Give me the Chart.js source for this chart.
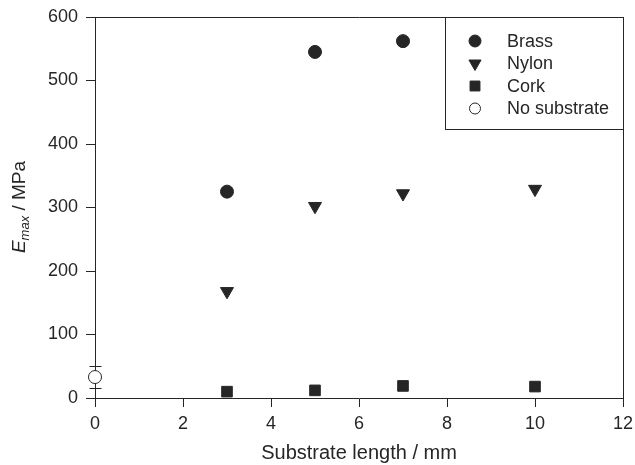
<!DOCTYPE html>
<html>
<head>
<meta charset="utf-8">
<script src="https://cdn.jsdelivr.net/npm/chart.js@4"></script>
<style>
  html, body { margin: 0; padding: 0; background: #fff; }
  #wrap { width: 635px; height: 465px; }
</style>
</head>
<body>
<div id="wrap"><canvas id="myChart"></canvas></div>
<script>
// data
const seriesNames = ['Brass', 'Nylon', 'Cork', 'No substrate'];
const brassX = [3, 5, 7];
const brassY = [325, 545, 562];
const nylonX = [3, 5, 7, 10];
const nylonY = [168, 302, 322, 329];
const corkX = [3, 5, 7, 10];
const corkY = [10, 12, 19, 18];
const bareX = [0];
const bareY = [33];
const bareErrLow = [16];
const bareErrHigh = [51];
const xTickValues = [0, 2, 4, 6, 8, 10, 12];
const yTickValues = [0, 100, 200, 300, 400, 500, 600];

const ink = '#262626';
const fontFamily = "'Liberation Sans', Arial, Helvetica, sans-serif";
Chart.defaults.font.family = fontFamily;

function pts(xs, ys) {
  return xs.map((x, i) => ({ x: x, y: ys[i] }));
}

const ctx = document.getElementById('myChart');

// frame, error bar, legend box and axis titles
const extras = {
  id: 'extras',
  beforeDatasetsDraw(chart) {
    const c = chart.ctx;
    const xs = chart.scales.x, ys = chart.scales.y;
    c.save();
    c.strokeStyle = ink;
    c.lineWidth = 1;
    bareX.forEach((x, i) => {
      const px = Math.round(xs.getPixelForValue(x)) + 0.5;
      const lo = ys.getPixelForValue(bareErrLow[i]);
      const hi = ys.getPixelForValue(bareErrHigh[i]);
      c.beginPath();
      c.moveTo(px, lo); c.lineTo(px, hi);
      c.moveTo(px - 6, Math.round(lo) + 0.5); c.lineTo(px + 6, Math.round(lo) + 0.5);
      c.moveTo(px - 6, Math.round(hi) + 0.5); c.lineTo(px + 6, Math.round(hi) + 0.5);
      c.stroke();
    });
    c.restore();
  },
  afterDraw(chart) {
    const c = chart.ctx;
    const a = chart.chartArea;
    c.save();
    c.strokeStyle = ink;
    c.lineWidth = 1;
    // top and right frame
    c.beginPath();
    c.moveTo(a.left, a.top + 0.5); c.lineTo(a.right + 0.5, a.top + 0.5);
    c.lineTo(a.right + 0.5, a.bottom);
    c.stroke();

    // legend box
    const bx = a.right - 178, by = a.top, bw = 178, bh = 112;
    c.strokeRect(Math.round(bx) + 0.5, by + 0.5, bw, bh);
    c.font = '18px ' + fontFamily;
    c.fillStyle = ink;
    c.textBaseline = 'middle';
    c.textAlign = 'left';
    chart.data.datasets.forEach((ds, i) => {
      const cy = by + 24 + i * 22.5;
      const mx = bx + 30;
      c.save();
      c.fillStyle = ds.backgroundColor;
      c.strokeStyle = ds.borderColor;
      c.lineWidth = 1;
      Chart.helpers.drawPoint(c, {
        pointStyle: ds.pointStyle,
        radius: ds.legendRadius,
        rotation: ds.pointRotation || 0,
        borderWidth: 1
      }, mx, cy);
      c.restore();
      c.fillText(ds.label, bx + 62, cy + 1);
    });

    // x title
    c.font = '20px ' + fontFamily;
    c.textAlign = 'center';
    c.textBaseline = 'middle';
    c.fillText('Substrate length / mm', (a.left + a.right) / 2, 453);

    // y title with italic subscript
    const big = '19px ' + fontFamily;
    const bigIt = 'italic 19px ' + fontFamily;
    const smallIt = 'italic 13px ' + fontFamily;
    c.font = bigIt; const wE = c.measureText('E').width;
    c.font = smallIt; const wSub = c.measureText('max').width;
    c.font = big; const wRest = c.measureText(' / MPa').width;
    const total = wE + wSub + wRest;
    c.translate(19, 207);
    c.rotate(-Math.PI / 2);
    c.textAlign = 'left';
    c.textBaseline = 'alphabetic';
    let tx = -total / 2;
    c.font = bigIt; c.fillText('E', tx, 6); tx += wE;
    c.font = smallIt; c.fillText('max', tx, 10); tx += wSub;
    c.font = big; c.fillText(' / MPa', tx, 6);
    c.restore();
  }
};

new Chart(ctx, {
  type: 'scatter',
  data: {
    datasets: [{
      label: seriesNames[0],
      data: pts(brassX, brassY),
      pointStyle: 'circle',
      pointRadius: 6.5,
      legendRadius: 6,
      backgroundColor: ink,
      borderColor: ink,
      borderWidth: 1
    }, {
      label: seriesNames[1],
      data: pts(nylonX, nylonY),
      pointStyle: 'triangle',
      pointRotation: 180,
      pointRadius: 7.5,
      legendRadius: 7,
      backgroundColor: ink,
      borderColor: ink,
      borderWidth: 1
    }, {
      label: seriesNames[2],
      data: pts(corkX, corkY),
      pointStyle: 'rect',
      pointRadius: 7.5,
      legendRadius: 7,
      backgroundColor: ink,
      borderColor: ink,
      borderWidth: 1
    }, {
      label: seriesNames[3],
      data: pts(bareX, bareY),
      pointStyle: 'circle',
      pointRadius: 6.5,
      legendRadius: 5.5,
      backgroundColor: '#ffffff',
      borderColor: ink,
      borderWidth: 1
    }]
  },
  options: {
    responsive: true,
    maintainAspectRatio: false,
    animation: false,
    clip: false,
    layout: { padding: { top: 17, right: 12, left: 0, bottom: 0 } },
    plugins: {
      legend: { display: false },
      tooltip: { enabled: false }
    },
    scales: {
      x: {
        type: 'linear',
        min: 0,
        max: 12,
        afterFit: (s) => { s.height = 67; s.paddingLeft = 0; s.paddingRight = 0; },
        afterBuildTicks: (s) => { s.ticks = xTickValues.map(v => ({ value: v })); },
        grid: { drawOnChartArea: false, tickLength: 9, color: ink },
        border: { color: ink },
        ticks: { color: ink, font: { size: 18 }, padding: 6 }
      },
      y: {
        type: 'linear',
        min: 0,
        max: 600,
        afterFit: (s) => { s.width = 95; s.paddingTop = 0; s.paddingBottom = 0; },
        afterBuildTicks: (s) => { s.ticks = yTickValues.map(v => ({ value: v })); },
        grid: { drawOnChartArea: false, tickLength: 9, color: ink },
        border: { color: ink },
        ticks: { color: ink, font: { size: 18 }, padding: 8 }
      }
    }
  },
  plugins: [extras]
});
</script>
</body>
</html>
